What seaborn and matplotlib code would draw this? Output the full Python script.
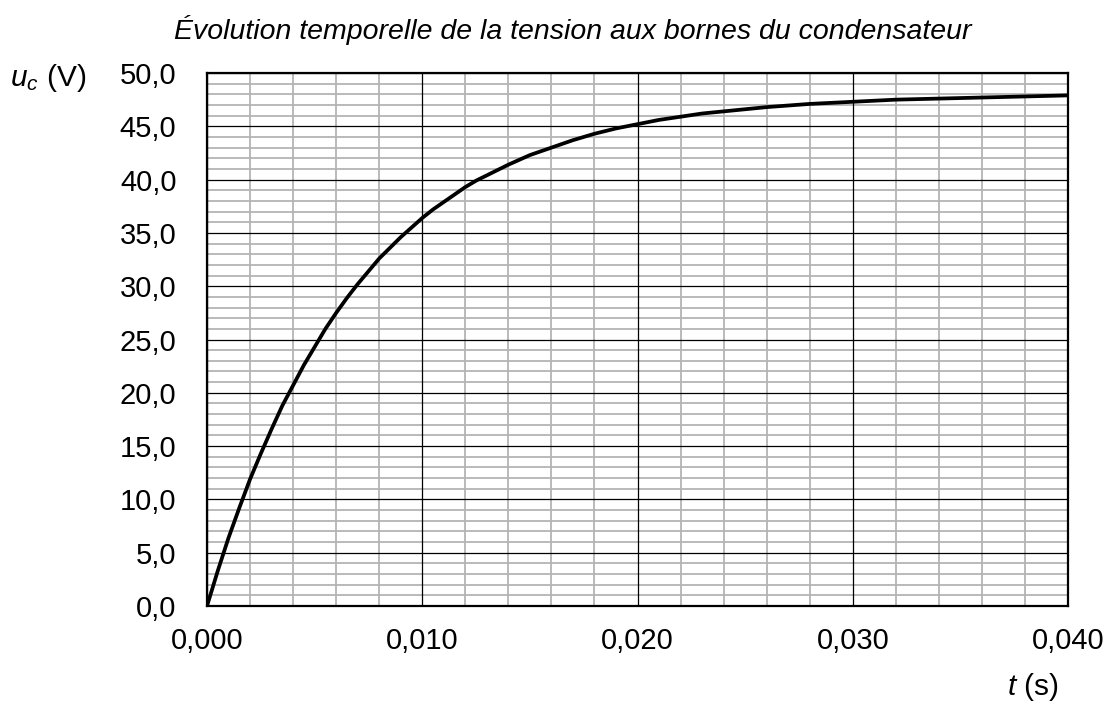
import matplotlib
matplotlib.use('Agg')
import matplotlib.pyplot as plt
from matplotlib.ticker import MultipleLocator, FuncFormatter
import seaborn as sns
import pandas as pd

# values
t_s = [0.0000, 0.0005, 0.0010, 0.0015, 0.0020, 0.0025, 0.0030, 0.0035, 0.0040,
       0.0045, 0.0050, 0.0055, 0.0060, 0.0065, 0.0070, 0.0075, 0.0080, 0.0085,
       0.0090, 0.0095, 0.0100, 0.0105, 0.0110, 0.0115, 0.0120, 0.0125, 0.0130,
       0.0135, 0.0140, 0.0150, 0.0160, 0.0170, 0.0180, 0.0190, 0.0200, 0.0210,
       0.0220, 0.0230, 0.0240, 0.0250, 0.0260, 0.0280, 0.0300, 0.0320, 0.0340,
       0.0360, 0.0380, 0.0400]
u_c = [0.0, 3.3, 6.4, 9.2, 11.9, 14.3, 16.6, 18.8, 20.7,
       22.6, 24.3, 26.0, 27.5, 28.9, 30.2, 31.4, 32.6, 33.6,
       34.6, 35.5, 36.4, 37.2, 37.9, 38.6, 39.3, 39.9, 40.4,
       40.9, 41.4, 42.3, 43.0, 43.7, 44.3, 44.8, 45.2, 45.6,
       45.9, 46.2, 46.4, 46.6, 46.8, 47.1, 47.3, 47.5, 47.6,
       47.7, 47.8, 47.9]
x_major = [0.000, 0.010, 0.020, 0.030, 0.040]
y_major = [0.0, 5.0, 10.0, 15.0, 20.0, 25.0, 30.0, 35.0, 40.0, 45.0, 50.0]

title = "Évolution temporelle de la tension aux bornes du condensateur"

sns.set_style('white')
plt.rcParams['font.family'] = ['Liberation Sans', 'DejaVu Sans']
plt.rcParams['mathtext.fontset'] = 'custom'
plt.rcParams['mathtext.it'] = 'Liberation Sans:italic'
plt.rcParams['mathtext.rm'] = 'Liberation Sans'
plt.rcParams['text.color'] = 'black'
plt.rcParams['xtick.color'] = 'black'
plt.rcParams['ytick.color'] = 'black'

df = pd.DataFrame({'t': t_s, 'u': u_c})

fig = plt.figure(figsize=(11.07, 7.06), dpi=100)
ax = fig.add_axes([0.187, 0.1416, 0.7778, 0.755])

sns.lineplot(data=df, x='t', y='u', ax=ax, color='black', lw=2.7, zorder=4)

ax.set_xlim(0, 0.040)
ax.set_ylim(0, 50)
ax.xaxis.set_major_locator(MultipleLocator(0.010))
ax.xaxis.set_minor_locator(MultipleLocator(0.002))
ax.yaxis.set_major_locator(MultipleLocator(5))
ax.yaxis.set_minor_locator(MultipleLocator(1))
ax.xaxis.set_major_formatter(FuncFormatter(lambda v, p: f"{v:.3f}".replace('.', ',')))
ax.yaxis.set_major_formatter(FuncFormatter(lambda v, p: f"{v:.1f}".replace('.', ',')))

ax.set_axisbelow(True)
ax.grid(which='minor', color='#b4b4b4', lw=1.3)
ax.grid(which='major', visible=False)
for xv in x_major:
    ax.axvline(xv, color='black', lw=0.9, zorder=2)
for yv in y_major:
    ax.axhline(yv, color='black', lw=0.9, zorder=2)

ax.tick_params(axis='both', which='both', length=0, labelsize=21, labelcolor='black')
ax.tick_params(axis='x', pad=15)
ax.tick_params(axis='y', pad=22)
for s in ax.spines.values():
    s.set_visible(True)
    s.set_color('black')
    s.set_linewidth(1.6)
    s.set_zorder(5)

ax.set_xlabel('')
ax.set_ylabel('')

fig.text(0.517, 0.957, title, fontsize=20.5, style='italic', ha='center', va='center')
fig.text(0.009, 0.889, r"$u_c$ (V)", fontsize=21.5, ha='left', va='center')
fig.text(0.956, 0.027, r"$t$ (s)", fontsize=21.5, ha='right', va='center')

fig.savefig('out.png', dpi=100)
